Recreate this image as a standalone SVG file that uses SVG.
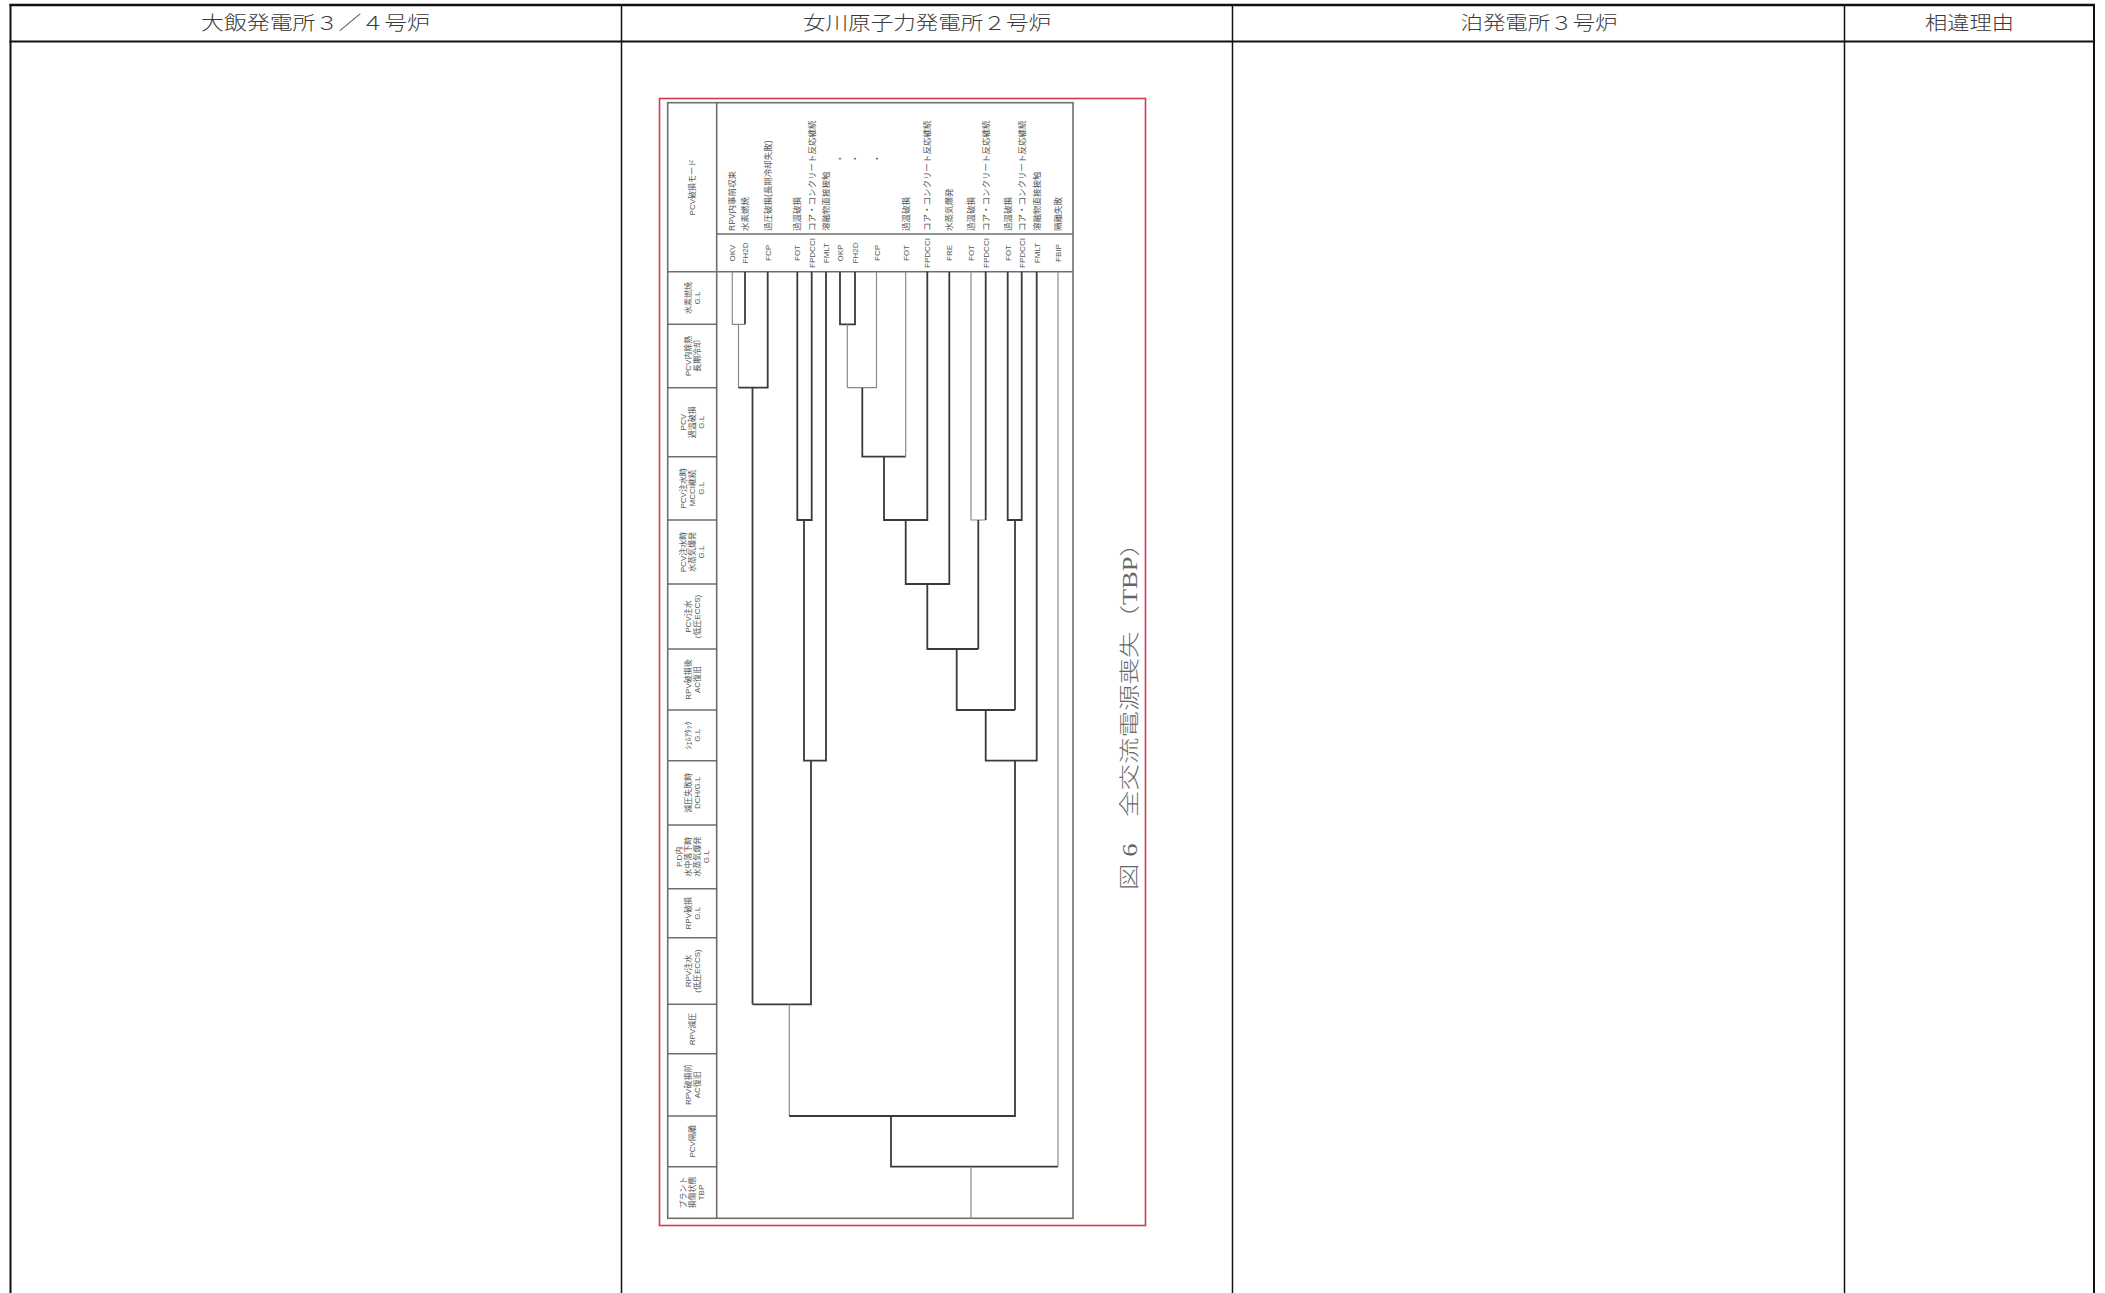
<svg xmlns="http://www.w3.org/2000/svg" width="2105" height="1293" viewBox="0 0 2105 1293">
<style>
.tbl{stroke:#111;fill:none}
.hd{font-family:"Liberation Serif","Noto Sans CJK JP",serif;font-size:19px;font-weight:300;fill:#3a3a3a;text-anchor:middle}
.frame{fill:none;stroke:#6e6e6e;stroke-width:1.6}
.red{fill:none;stroke:#d43a4a;stroke-width:1.6}
.lb{font-family:"Liberation Sans","Noto Sans CJK JP",sans-serif;font-size:8px;fill:#555;text-anchor:middle}
.ds{font-family:"Liberation Sans","Noto Sans CJK JP",sans-serif;font-size:8.5px;fill:#555;text-anchor:start}
.ab{font-family:"Liberation Sans","Noto Sans CJK JP",sans-serif;font-size:8px;fill:#555;text-anchor:middle}
.dk{fill:none;stroke:#3a3a3a;stroke-width:1.8}
.lt{fill:none;stroke:#8a8a8a;stroke-width:1.2}
.cap{font-family:"Liberation Serif","Noto Sans CJK JP",serif;font-size:20px;font-weight:300;fill:#666;text-anchor:middle}
</style>
<rect x="0" y="0" width="2105" height="1293" fill="#fff"/>

<!-- comparison table -->
<g id="table">
<line class="tbl" x1="9.5" y1="5" x2="2095" y2="5" stroke-width="2.5"/>
<line class="tbl" x1="9.5" y1="41.5" x2="2095" y2="41.5" stroke-width="2"/>
<line class="tbl" x1="10.5" y1="4" x2="10.5" y2="1293" stroke-width="2"/>
<line class="tbl" x1="621.5" y1="5" x2="621.5" y2="1293" stroke-width="1.5"/>
<line class="tbl" x1="1232.5" y1="5" x2="1232.5" y2="1293" stroke-width="1.5"/>
<line class="tbl" x1="1844.5" y1="5" x2="1844.5" y2="1293" stroke-width="1.5"/>
<line class="tbl" x1="2094" y1="4" x2="2094" y2="1293" stroke-width="2"/>
</g>
<g id="header-ohi"><text class="hd" x="315.5" y="30" textLength="229" lengthAdjust="spacingAndGlyphs">大飯発電所３／４号炉</text></g>
<g id="header-onagawa"><text class="hd" x="927" y="30" textLength="248" lengthAdjust="spacingAndGlyphs">女川原子力発電所２号炉</text></g>
<g id="header-tomari"><text class="hd" x="1539" y="30" textLength="157" lengthAdjust="spacingAndGlyphs">泊発電所３号炉</text></g>
<g id="header-reason"><text class="hd" x="1969.5" y="30" textLength="89" lengthAdjust="spacingAndGlyphs">相違理由</text></g>

<!-- figure frame -->
<g id="figure-frame">
<rect class="red" x="659.5" y="98.5" width="486" height="1127"/>
<rect class="frame" x="667.7" y="102.7" width="405.3" height="1115.6"/>
<line class="frame" x1="716.7" y1="102.7" x2="716.7" y2="1218.3"/>
<line class="frame" x1="716.7" y1="234" x2="1073" y2="234"/>
<line class="frame" x1="667.7" y1="271.7" x2="1073" y2="271.7"/>
<path class="frame" d="M667.7 324.3H716.7M667.7 387.7H716.7M667.7 456.7H716.7M667.7 520H716.7M667.7 584H716.7M667.7 649H716.7M667.7 710H716.7M667.7 760.7H716.7M667.7 825H716.7M667.7 888.7H716.7M667.7 937.7H716.7M667.7 1004.3H716.7M667.7 1053.7H716.7M667.7 1116H716.7M667.7 1166.7H716.7"/>
</g>

<!-- stage labels (left column) -->
<g id="stage-header"><text class="lb" transform="translate(692.2 187.2) rotate(-90)"><tspan x="0" y="3">PCV破損モード</tspan></text></g>
<g id="stage-1"><text class="lb" transform="translate(692.2 298) rotate(-90)"><tspan x="0" y="-1.5">水素燃焼</tspan><tspan x="0" y="7.5">G.L</tspan></text></g>
<g id="stage-2"><text class="lb" transform="translate(692.2 356) rotate(-90)"><tspan x="0" y="-1.5">PCV内除熱</tspan><tspan x="0" y="7.5">長期冷却</tspan></text></g>
<g id="stage-3"><text class="lb" transform="translate(692.2 422.2) rotate(-90)"><tspan x="0" y="-6">PCV</tspan><tspan x="0" y="3">過温破損</tspan><tspan x="0" y="12">G.L</tspan></text></g>
<g id="stage-4"><text class="lb" transform="translate(692.2 488.3) rotate(-90)"><tspan x="0" y="-6">PCV注水時</tspan><tspan x="0" y="3">MCCI継続</tspan><tspan x="0" y="12">G.L</tspan></text></g>
<g id="stage-5"><text class="lb" transform="translate(692.2 552) rotate(-90)"><tspan x="0" y="-6">PCV注水時</tspan><tspan x="0" y="3">水蒸気爆発</tspan><tspan x="0" y="12">G.L</tspan></text></g>
<g id="stage-6"><text class="lb" transform="translate(692.2 616.5) rotate(-90)"><tspan x="0" y="-1.5">PCV注水</tspan><tspan x="0" y="7.5">(低圧ECCS)</tspan></text></g>
<g id="stage-7"><text class="lb" transform="translate(692.2 679.5) rotate(-90)"><tspan x="0" y="-1.5">RPV破損後</tspan><tspan x="0" y="7.5">AC復旧</tspan></text></g>
<g id="stage-8"><text class="lb" transform="translate(692.2 735.3) rotate(-90)"><tspan x="0" y="-1.5">ｼｪﾙｱﾀｯｸ</tspan><tspan x="0" y="7.5">G.L</tspan></text></g>
<g id="stage-9"><text class="lb" transform="translate(692.2 792.8) rotate(-90)"><tspan x="0" y="-1.5">減圧失敗時</tspan><tspan x="0" y="7.5">DCH/G.L</tspan></text></g>
<g id="stage-10"><text class="lb" transform="translate(692.2 856.8) rotate(-90)"><tspan x="0" y="-10.5">P.D内</tspan><tspan x="0" y="-1.5">水中落下時</tspan><tspan x="0" y="7.5">水蒸気爆発</tspan><tspan x="0" y="16.5">G.L</tspan></text></g>
<g id="stage-11"><text class="lb" transform="translate(692.2 913.2) rotate(-90)"><tspan x="0" y="-1.5">RPV破損</tspan><tspan x="0" y="7.5">G.L</tspan></text></g>
<g id="stage-12"><text class="lb" transform="translate(692.2 971) rotate(-90)"><tspan x="0" y="-1.5">RPV注水</tspan><tspan x="0" y="7.5">(低圧ECCS)</tspan></text></g>
<g id="stage-13"><text class="lb" transform="translate(692.2 1029) rotate(-90)"><tspan x="0" y="3">RPV減圧</tspan></text></g>
<g id="stage-14"><text class="lb" transform="translate(692.2 1084.8) rotate(-90)"><tspan x="0" y="-1.5">RPV破損前</tspan><tspan x="0" y="7.5">AC復旧</tspan></text></g>
<g id="stage-15"><text class="lb" transform="translate(692.2 1141.3) rotate(-90)"><tspan x="0" y="3">PCV隔離</tspan></text></g>
<g id="stage-16"><text class="lb" transform="translate(692.2 1192.5) rotate(-90)"><tspan x="0" y="-6">プラント</tspan><tspan x="0" y="3">損傷状態</tspan><tspan x="0" y="12">TBP</tspan></text></g>

<!-- failure mode columns -->
<g id="mode-1"><text class="ds" transform="translate(735.3 231) rotate(-90)">RPV内事前収束</text><text class="ab" transform="translate(735.3 253) rotate(-90)">OKV</text></g>
<g id="mode-2"><text class="ds" transform="translate(748 231) rotate(-90)">水素燃焼</text><text class="ab" transform="translate(748 253) rotate(-90)">FH2D</text></g>
<g id="mode-3"><text class="ds" transform="translate(770.7 231) rotate(-90)">過圧破損(長期冷却失敗)</text><text class="ab" transform="translate(770.7 253) rotate(-90)">FCP</text></g>
<g id="mode-4"><text class="ds" transform="translate(800.3 231) rotate(-90)">過温破損</text><text class="ab" transform="translate(800.3 253) rotate(-90)">FOT</text></g>
<g id="mode-5"><text class="ds" transform="translate(814.7 231) rotate(-90)">コア・コンクリート反応継続</text><text class="ab" transform="translate(814.7 253) rotate(-90)">FPDCCI</text></g>
<g id="mode-6"><text class="ds" transform="translate(829 231) rotate(-90)">溶融物直接接触</text><text class="ab" transform="translate(829 253) rotate(-90)">FMLT</text></g>
<g id="mode-7"><text class="ds" transform="translate(843 163) rotate(-90)">・</text><text class="ab" transform="translate(843 253) rotate(-90)">OKP</text></g>
<g id="mode-8"><text class="ds" transform="translate(858 163) rotate(-90)">・</text><text class="ab" transform="translate(858 253) rotate(-90)">FH2D</text></g>
<g id="mode-9"><text class="ds" transform="translate(879.5 163) rotate(-90)">・</text><text class="ab" transform="translate(879.5 253) rotate(-90)">FCP</text></g>
<g id="mode-10"><text class="ds" transform="translate(908.7 231) rotate(-90)">過温破損</text><text class="ab" transform="translate(908.7 253) rotate(-90)">FOT</text></g>
<g id="mode-11"><text class="ds" transform="translate(930.3 231) rotate(-90)">コア・コンクリート反応継続</text><text class="ab" transform="translate(930.3 253) rotate(-90)">FPDCCI</text></g>
<g id="mode-12"><text class="ds" transform="translate(952.3 231) rotate(-90)">水蒸気爆発</text><text class="ab" transform="translate(952.3 253) rotate(-90)">FRE</text></g>
<g id="mode-13"><text class="ds" transform="translate(974 231) rotate(-90)">過温破損</text><text class="ab" transform="translate(974 253) rotate(-90)">FOT</text></g>
<g id="mode-14"><text class="ds" transform="translate(988.7 231) rotate(-90)">コア・コンクリート反応継続</text><text class="ab" transform="translate(988.7 253) rotate(-90)">FPDCCI</text></g>
<g id="mode-15"><text class="ds" transform="translate(1010.7 231) rotate(-90)">過温破損</text><text class="ab" transform="translate(1010.7 253) rotate(-90)">FOT</text></g>
<g id="mode-16"><text class="ds" transform="translate(1024.7 231) rotate(-90)">コア・コンクリート反応継続</text><text class="ab" transform="translate(1024.7 253) rotate(-90)">FPDCCI</text></g>
<g id="mode-17"><text class="ds" transform="translate(1039.7 231) rotate(-90)">溶融物直接接触</text><text class="ab" transform="translate(1039.7 253) rotate(-90)">FMLT</text></g>
<g id="mode-18"><text class="ds" transform="translate(1061.3 231) rotate(-90)">隔離失敗</text><text class="ab" transform="translate(1061.3 253) rotate(-90)">FBIP</text></g>

<!-- event tree connectors -->
<g id="connectors">
<path class="lt" d="M732.3 271.7V324.3H745"/>
<path class="dk" d="M745 271.7V324.3"/>
<path class="lt" d="M738.5 324.3V387.7"/>
<path class="dk" d="M738.5 387.7H767.7V271.7"/>
<path class="dk" d="M752.5 387.7V1004.3"/>
<path class="dk" d="M797.3 271.7V520H811.7V271.7"/>
<path class="dk" d="M804 520V760.7H826V271.7"/>
<path class="dk" d="M811 760.7V1004.3H752.5"/>
<path class="lt" d="M789.3 1004.3V1116"/>
<path class="dk" d="M840 271.7V324.3H855V271.7"/>
<path class="lt" d="M847.3 324.3V387.7"/>
<path class="lt" d="M847.3 387.7H876.5V271.7"/>
<path class="dk" d="M862.3 387.7V456.7H905.7"/>
<path class="lt" d="M905.7 271.7V456.7"/>
<path class="dk" d="M884 456.7V520H927.3V271.7"/>
<path class="dk" d="M905.7 520V584H949.3V271.7"/>
<path class="dk" d="M927.3 584V649H978.3"/>
<path class="lt" d="M971 271.7V520H985.7"/>
<path class="dk" d="M985.7 271.7V520"/>
<path class="dk" d="M978.3 520V649"/>
<path class="dk" d="M956.7 649V710H1015"/>
<path class="dk" d="M1007.7 271.7V520H1021.7V271.7"/>
<path class="dk" d="M1015 520V710"/>
<path class="dk" d="M985.7 710V760.7H1036.7V271.7"/>
<path class="dk" d="M1015 760.7V1116H789.3"/>
<path class="dk" d="M891 1116V1166.7H1058"/>
<path class="lt" d="M1058 271.7V1166.7"/>
<path class="lt" d="M971 1166.7V1218.3"/>
</g>

<g id="caption"><text class="cap" transform="translate(1137 710) rotate(-90)" textLength="360" lengthAdjust="spacingAndGlyphs">図 6　全交流電源喪失（TBP）</text></g>
</svg>
